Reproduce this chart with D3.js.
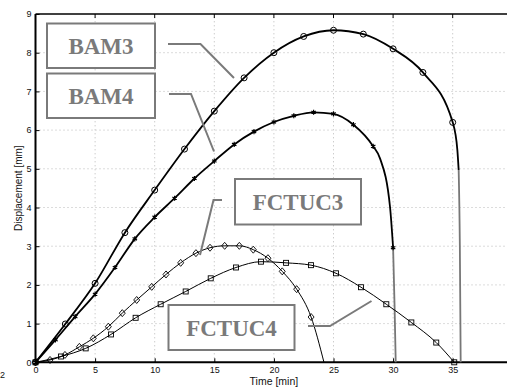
<!DOCTYPE html>
<html>
<head>
<meta charset="utf-8">
<script src="https://cdn.jsdelivr.net/npm/d3@7/dist/d3.min.js"></script>
<style>
  html, body { margin: 0; padding: 0; background: #fff; }
  svg { display: block; }
</style>
</head>
<body>
<div id="chart"></div>
<script>
// Displacement histories of four tests (time in minutes, displacement in mm)
const bam3Time = [0, 2.5, 5, 7.5, 10, 12.5, 15, 17.5, 20, 22.5, 25, 27.5, 30, 32.5, 35];
const bam3Disp = [0, 0.99, 2.04, 3.35, 4.45, 5.51, 6.49, 7.35, 8.0, 8.42, 8.58, 8.48, 8.10, 7.49, 6.20];
const bam3DropTime = [35, 35.39, 35.5, 35.6, 35.67];
const bam3DropDisp = [6.20, 5.49, 4.97, 3.0, 0];

const bam4Time = [0, 1.67, 3.33, 5, 6.67, 8.33, 10, 11.67, 13.33, 15, 16.67, 18.33, 20, 21.67, 23.33, 25, 26.67, 28.33, 30];
const bam4Disp = [0, 0.58, 1.18, 1.76, 2.45, 3.19, 3.75, 4.24, 4.75, 5.20, 5.63, 5.96, 6.21, 6.37, 6.46, 6.42, 6.14, 5.58, 2.96];
const bam4BendTime = [28.33, 28.9, 29.74, 30];
const bam4BendDisp = [5.58, 5.27, 4.02, 2.96];
const bam4DropTime = [30, 30.12, 30.22];
const bam4DropDisp = [2.96, 1.5, 0];

const fctuc3Time = [0, 1.22, 2.47, 3.68, 4.85, 6.11, 7.28, 8.49, 9.75, 10.95, 12.18, 13.46, 14.64, 15.87, 17.1, 18.27, 19.5, 20.7, 21.91, 23.12];
const fctuc3Disp = [0, 0.06, 0.19, 0.40, 0.62, 0.92, 1.27, 1.61, 1.95, 2.27, 2.57, 2.82, 2.96, 3.01, 3.01, 2.91, 2.69, 2.35, 1.89, 1.17];
const fctuc3EndTime = [23.12, 24.2];
const fctuc3EndDisp = [1.17, 0];

const fctuc4Time = [0, 2.14, 4.21, 6.33, 8.4, 10.5, 12.6, 14.7, 16.82, 18.92, 21.02, 23.11, 25.21, 27.31, 29.43, 31.53, 33.62, 35.13];
const fctuc4Disp = [0, 0.15, 0.36, 0.72, 1.15, 1.50, 1.83, 2.17, 2.45, 2.60, 2.57, 2.51, 2.30, 1.94, 1.50, 1.03, 0.51, 0];

const xTicks = [0, 5, 10, 15, 20, 25, 30, 35];
const yTicks = [0, 1, 2, 3, 4, 5, 6, 7, 8, 9];
const labelNames = ["BAM3", "BAM4", "FCTUC3", "FCTUC4"];

const W = 507, H = 388;
const margin = { left: 35.5, top: 14, right: -5.3, bottom: 25.7 };
const innerW = W - margin.left - margin.right;
const innerH = H - margin.top - margin.bottom;

const svg = d3.select("#chart").append("svg")
  .attr("width", W).attr("height", H)
  .attr("font-family", "'Liberation Sans', Arial, sans-serif");

const x = d3.scaleLinear().domain([0, 40]).range([margin.left, margin.left + innerW]);
const y = d3.scaleLinear().domain([0, 9]).range([margin.top + innerH, margin.top]);

// dotted grid
const grid = svg.append("g");
grid.selectAll("line.gx").data(xTicks.slice(1)).join("line")
  .attr("x1", d => x(d)).attr("x2", d => x(d))
  .attr("y1", y(0)).attr("y2", y(9))
  .attr("stroke", "#b8b8b8").attr("stroke-width", 1).attr("stroke-dasharray", "1,3");
grid.selectAll("line.gy").data(yTicks.slice(1, -1)).join("line")
  .attr("x1", x(0)).attr("x2", x(40))
  .attr("y1", d => y(d)).attr("y2", d => y(d))
  .attr("stroke", "#b8b8b8").attr("stroke-width", 1).attr("stroke-dasharray", "1,3");

// axes with inward ticks
const xAxis = d3.axisBottom(x).tickValues(xTicks).tickSize(-4).tickPadding(4).tickFormat(d3.format("d"));
const yAxis = d3.axisLeft(y).tickValues(yTicks).tickSize(-4).tickPadding(4).tickFormat(d3.format("d"));
const gx = svg.append("g").attr("transform", `translate(0,${y(0)})`).call(xAxis);
const gy = svg.append("g").attr("transform", `translate(${x(0)},0)`).call(yAxis);
[gx, gy].forEach(g => {
  g.select(".domain").remove();
  g.selectAll(".tick line").attr("stroke", "#000").attr("stroke-width", 1);
  g.selectAll(".tick text").attr("font-size", 9).attr("fill", "#111")
    .attr("font-family", "'Liberation Sans', Arial, sans-serif");
});
// mirrored ticks on the top edge
svg.append("g").selectAll("line").data(xTicks).join("line")
  .attr("x1", d => x(d)).attr("x2", d => x(d))
  .attr("y1", y(9)).attr("y2", y(9) + 4)
  .attr("stroke", "#000");

// frame
svg.append("line").attr("x1", x(0)).attr("x2", x(40)).attr("y1", y(0)).attr("y2", y(0))
  .attr("stroke", "#000").attr("stroke-width", 2);
svg.append("line").attr("x1", x(0)).attr("x2", x(0)).attr("y1", y(0)).attr("y2", y(9))
  .attr("stroke", "#000").attr("stroke-width", 2);
svg.append("line").attr("x1", x(0)).attr("x2", x(40)).attr("y1", y(9)).attr("y2", y(9))
  .attr("stroke", "#000").attr("stroke-width", 1.3);

// axis titles
svg.append("text").attr("x", (x(0) + x(40)) / 2).attr("y", 385)
  .attr("text-anchor", "middle").attr("font-size", 10.5).attr("fill", "#111").text("Time [min]");
svg.append("text").attr("transform", `translate(22,${(y(0) + y(9)) / 2}) rotate(-90)`)
  .attr("text-anchor", "middle").attr("font-size", 10).attr("fill", "#111").text("Displacement [mm]");
svg.append("text").attr("x", 0).attr("y", 378).attr("font-size", 9).attr("fill", "#111").text("2");

const zip = (ts, vs) => ts.map((t, i) => [t, vs[i]]);
const line = d3.line().x(d => x(d[0])).y(d => y(d[1])).curve(d3.curveMonotoneX);

function drawPath(pts, color, width) {
  svg.append("path").datum(pts).attr("d", line)
    .attr("fill", "none").attr("stroke", color).attr("stroke-width", width)
    .attr("stroke-linejoin", "round");
}

// BAM3: thick line, open circles
drawPath(zip(bam3Time, bam3Disp).concat(zip(bam3DropTime, bam3DropDisp).slice(1, 3)), "#000", 1.8);
drawPath(zip(bam3DropTime, bam3DropDisp).slice(2), "#777", 1.8);
svg.append("g").selectAll("circle").data(zip(bam3Time, bam3Disp)).join("circle")
  .attr("cx", d => x(d[0])).attr("cy", d => y(d[1])).attr("r", 3)
  .attr("fill", "none").attr("stroke", "#000").attr("stroke-width", 1);

// BAM4: thick line, small star markers
drawPath(zip(bam4Time, bam4Disp).slice(0, -1).concat(zip(bam4BendTime, bam4BendDisp).slice(1)), "#000", 1.8);
drawPath(zip(bam4DropTime, bam4DropDisp), "#777", 1.8);
const star = d3.symbol().type(d3.symbolAsterisk).size(18);
svg.append("g").selectAll("path").data(zip(bam4Time, bam4Disp)).join("path")
  .attr("transform", d => `translate(${x(d[0])},${y(d[1])})`)
  .attr("d", star).attr("fill", "none").attr("stroke", "#000").attr("stroke-width", 1.2);

// FCTUC3: thin line, diamonds
drawPath(zip(fctuc3Time, fctuc3Disp).concat(zip(fctuc3EndTime, fctuc3EndDisp).slice(1)), "#000", 1);
svg.append("g").selectAll("path").data(zip(fctuc3Time, fctuc3Disp)).join("path")
  .attr("transform", d => `translate(${x(d[0])},${y(d[1])})`)
  .attr("d", "M0,-3.5L3,0L0,3.5L-3,0Z")
  .attr("fill", "none").attr("stroke", "#000").attr("stroke-width", 0.9);

// FCTUC4: thin line, squares
drawPath(zip(fctuc4Time, fctuc4Disp), "#000", 1);
svg.append("g").selectAll("rect").data(zip(fctuc4Time, fctuc4Disp)).join("rect")
  .attr("x", d => x(d[0]) - 2.5).attr("y", d => y(d[1]) - 2.5)
  .attr("width", 5).attr("height", 5)
  .attr("fill", "none").attr("stroke", "#000").attr("stroke-width", 0.9);

// labelled boxes with leader lines
const boxes = [
  { x: 47, y: 23.5, w: 108, h: 44.5, leader: [[168, 44], [200.5, 44], [234, 78]] },
  { x: 47, y: 73.5, w: 108, h: 44.5, leader: [[169, 94], [191, 94], [214, 151.5]] },
  { x: 235, y: 179, w: 126, h: 45.5, leader: [[222, 200], [213.5, 200], [200, 255]] },
  { x: 168.5, y: 305, w: 126, h: 45, leader: [[308, 326], [330, 326], [371.5, 301]] }
];
const gray = "#7a7a7a";
boxes.forEach((b, i) => {
  svg.append("rect").attr("x", b.x).attr("y", b.y).attr("width", b.w).attr("height", b.h)
    .attr("fill", "#fff").attr("stroke", gray).attr("stroke-width", 2);
  svg.append("text").attr("x", b.x + b.w / 2).attr("y", b.y + b.h / 2 + 8)
    .attr("text-anchor", "middle").attr("font-family", "'Liberation Serif', 'Times New Roman', serif")
    .attr("font-weight", "bold").attr("font-size", 23).attr("fill", gray).text(labelNames[i]);
  svg.append("path").attr("d", d3.line()(b.leader))
    .attr("fill", "none").attr("stroke", gray).attr("stroke-width", 2);
});
</script>
</body>
</html>
